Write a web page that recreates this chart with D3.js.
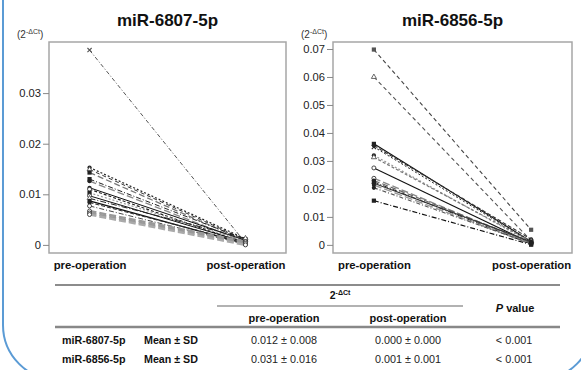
<!DOCTYPE html>
<html>
<head>
<meta charset="utf-8">
<script src="https://cdn.jsdelivr.net/npm/d3@7"></script>
<style>
  html, body { margin: 0; padding: 0; background: #fff; }
  svg { display: block; font-family: "Liberation Sans", Arial, sans-serif; }
</style>
</head>
<body>
<svg id="chart" width="581" height="370"></svg>
<script>
// ---------------- DATA ----------------
const groups = ["pre-operation", "post-operation"];
const titles = ["miR-6807-5p", "miR-6856-5p"];

const pre6807  = [0.0385, 0.0153, 0.0149, 0.0143, 0.0130, 0.0126, 0.0113, 0.0110, 0.0103, 0.0097, 0.0092, 0.0087, 0.0084, 0.0077, 0.0067, 0.0063, 0.0060];
const post6807 = [0.0004, 0.0012, 0.0010, 0.0008, 0.0011, 0.0006, 0.0009, 0.0003, 0.0007, 0.0005, 0.0013, 0.0002, 0.0004, 0.0001, 0.0006, 0.0003, 0.0000];

const pre6856  = [0.0698, 0.0600, 0.0361, 0.0355, 0.0350, 0.0320, 0.0313, 0.0275, 0.0238, 0.0230, 0.0225, 0.0220, 0.0214, 0.0204, 0.0158];
const post6856 = [0.0054, 0.0015, 0.0012, 0.0020, 0.0010, 0.0008, 0.0013, 0.0006, 0.0004, 0.0009, 0.0002, 0.0011, 0.0003, 0.0005, 0.0001];

const ticks6807 = [0, 0.01, 0.02, 0.03];
const ticks6856 = [0, 0.01, 0.02, 0.03, 0.04, 0.05, 0.06, 0.07];

const tableHeaderTop = "2";
const tableHeaderCols = ["pre-operation", "post-operation"];
const tableRowNames = ["miR-6807-5p", "miR-6856-5p"];
const tableStat = ["Mean \u00B1 SD", "Mean \u00B1 SD"];
const tablePre = ["0.012 \u00B1 0.008", "0.031 \u00B1 0.016"];
const tablePost = ["0.000 \u00B1 0.000", "0.001 \u00B1 0.001"];
const tableP = ["< 0.001", "< 0.001"];

// ---------------- STYLES ----------------
const styles6807 = [
  {c:"#555", w:1, d:"4,2,1,2", m:"x"},
  {c:"#222", w:1.2, d:"2,2", m:"circleF"},
  {c:"#333", w:1, d:"4,3", m:"triO"},
  {c:"#777", w:1.3, d:"6,3", m:"squareF"},
  {c:"#222", w:1, d:"5,2,1,2", m:"squareF"},
  {c:"#888", w:1.3, d:"7,3", m:"circleF"},
  {c:"#111", w:1, d:null, m:"circleF"},
  {c:"#222", w:1.2, d:"3,2", m:"circleO"},
  {c:"#999", w:1.2, d:"2,2", m:"squareF"},
  {c:"#111", w:1, d:null, m:"circleO"},
  {c:"#222", w:1, d:"6,2,1,2", m:"triO"},
  {c:"#111", w:1.3, d:null, m:"circleF"},
  {c:"#333", w:1.1, d:"4,2", m:"circleF"},
  {c:"#444", w:1, d:"5,2,1,2", m:"circleO"},
  {c:"#999", w:2.4, d:"7,3", m:"circleO"},
  {c:"#999", w:2.4, d:"7,3", m:"circleO"},
  {c:"#aaa", w:2.4, d:"7,3", m:"circleO"}
];
const styles6856 = [
  {c:"#444", w:1.1, d:"4,3", m:"squareG"},
  {c:"#555", w:1.1, d:"4,3", m:"triO"},
  {c:"#111", w:1.2, d:null, m:"squareF"},
  {c:"#333", w:1.1, d:"4,2", m:"circleF"},
  {c:"#222", w:1, d:"2,2", m:"x"},
  {c:"#999", w:1.3, d:"2,2", m:"circleF"},
  {c:"#777", w:1.2, d:"3,2", m:"triO"},
  {c:"#111", w:1.1, d:null, m:"circleO"},
  {c:"#888", w:1.4, d:"7,3", m:"circleO"},
  {c:"#666", w:1.2, d:"6,3", m:"circleF"},
  {c:"#222", w:1, d:"5,2,1,2", m:"squareF"},
  {c:"#333", w:1.1, d:null, m:"circleF"},
  {c:"#999", w:1.4, d:"8,3", m:"circleF"},
  {c:"#555", w:1.1, d:"4,2,1,2", m:"circleF"},
  {c:"#111", w:1.2, d:"5,2,1,2", m:"squareF"}
];

// ---------------- DRAW ----------------
const svg = d3.select("#chart");

// rounded blue frame
svg.append("rect")
  .attr("x", 3).attr("y", -60).attr("width", 590).attr("height", 440)
  .attr("rx", 55).attr("ry", 55)
  .attr("fill", "none").attr("stroke", "#5b9bd5").attr("stroke-width", 2);

function marker(g, type, x, y, color) {
  const s = 2.1;
  if (type === "x") {
    g.append("path").attr("d", `M${x-s},${y-s}L${x+s},${y+s}M${x-s},${y+s}L${x+s},${y-s}`)
      .attr("stroke", color).attr("stroke-width", 1.1);
  } else if (type === "circleF") {
    g.append("circle").attr("cx", x).attr("cy", y).attr("r", 2.1).attr("fill", "#222");
  } else if (type === "circleO") {
    g.append("circle").attr("cx", x).attr("cy", y).attr("r", 2).attr("fill", "#fff")
      .attr("stroke", "#333").attr("stroke-width", 0.9);
  } else if (type === "squareF") {
    g.append("rect").attr("x", x-2.1).attr("y", y-2.1).attr("width", 4.2).attr("height", 4.2).attr("fill", "#222");
  } else if (type === "squareG") {
    g.append("rect").attr("x", x-2.1).attr("y", y-2.1).attr("width", 4.2).attr("height", 4.2).attr("fill", "#555");
  } else if (type === "triO") {
    g.append("path").attr("d", d3.symbol(d3.symbolTriangle, 11)())
      .attr("transform", `translate(${x},${y})`).attr("fill", "#fff").attr("stroke", "#444").attr("stroke-width", 0.8);
  }
}

function panel(opts) {
  const {x0, x1, y0, y1, domain, ticks, pre, post, styles, title} = opts;
  const g = svg.append("g");
  const x = d3.scalePoint().domain(groups).range([x0, x1]).padding(0.26);
  const y = d3.scaleLinear().domain(domain).range([y1, y0]);

  // lines
  pre.forEach((v, i) => {
    const st = styles[i % styles.length];
    g.append("line")
      .attr("x1", x(groups[0])).attr("y1", y(v))
      .attr("x2", x(groups[1])).attr("y2", y(post[i]))
      .attr("stroke", st.c).attr("stroke-width", st.w)
      .attr("stroke-dasharray", st.d);
  });
  // markers
  pre.forEach((v, i) => {
    const st = styles[i % styles.length];
    marker(g, st.m, x(groups[0]), y(v), st.c);
    marker(g, st.m, x(groups[1]), y(post[i]), st.c);
  });

  // frame
  g.append("rect").attr("x", x0).attr("y", y0).attr("width", x1 - x0).attr("height", y1 - y0)
    .attr("fill", "none").attr("stroke", "#a6a6a6").attr("stroke-width", 1.5);

  // y axis
  const ya = g.append("g").attr("transform", `translate(${x0},0)`)
    .call(d3.axisLeft(y).tickValues(ticks).tickSize(6).tickPadding(2)
      .tickFormat(d => d === 0 ? "0" : d3.format(".2f")(d)));
  ya.select(".domain").remove();
  ya.selectAll(".tick line").attr("stroke", "#888");
  ya.selectAll("text").attr("font-size", 11.2).attr("fill", "#222")
    .attr("font-family", "Liberation Sans, Arial, sans-serif");

  // x axis
  const xa = g.append("g").attr("transform", `translate(0,${y1})`)
    .call(d3.axisBottom(x).tickSize(0).tickPadding(8));
  xa.select(".domain").remove();
  xa.selectAll("text").attr("font-size", 11.3).attr("font-weight", "bold").attr("fill", "#111")
    .attr("font-family", "Liberation Sans, Arial, sans-serif");

  // title
  g.append("text").attr("x", (x0 + x1) / 2).attr("y", 26).attr("text-anchor", "middle")
    .attr("font-size", 17).attr("font-weight", "bold").attr("fill", "#111").text(title);

  // unit label
  const u = g.append("text").attr("x", x0 - 32).attr("y", 38).attr("font-size", 10).attr("fill", "#333");
  u.append("tspan").text("(2");
  u.append("tspan").attr("dy", -4).attr("font-size", 7).text("-\u0394Ct");
  u.append("tspan").attr("dy", 4).text(")");
}

panel({x0: 49, x1: 286, y0: 42, y1: 253, domain: [-0.0016, 0.0401], ticks: ticks6807,
       pre: pre6807, post: post6807, styles: styles6807, title: titles[0]});
panel({x0: 333, x1: 572, y0: 42, y1: 253, domain: [-0.0029, 0.0725], ticks: ticks6856,
       pre: pre6856, post: post6856, styles: styles6856, title: titles[1]});

// ---------------- TABLE ----------------
const t = svg.append("g").attr("fill", "#111");
t.append("line").attr("x1", 55).attr("x2", 560).attr("y1", 285).attr("y2", 285)
  .attr("stroke", "#666").attr("stroke-width", 1.5);
t.append("line").attr("x1", 217).attr("x2", 463).attr("y1", 306).attr("y2", 306)
  .attr("stroke", "#666").attr("stroke-width", 1.2);
t.append("line").attr("x1", 55).attr("x2", 560).attr("y1", 327).attr("y2", 327)
  .attr("stroke", "#888").attr("stroke-width", 2.5);

const hdr = t.append("text").attr("x", 340).attr("y", 299).attr("text-anchor", "middle")
  .attr("font-size", 10.5).attr("font-weight", "bold");
hdr.append("tspan").text(tableHeaderTop);
hdr.append("tspan").attr("dy", -4).attr("font-size", 7).text("-\u0394Ct");

const pv = t.append("text").attr("x", 515).attr("y", 312).attr("text-anchor", "middle")
  .attr("font-size", 11).attr("font-weight", "bold");
pv.append("tspan").attr("font-style", "italic").text("P");
pv.append("tspan").text(" value");

const colX = [284, 408];
tableHeaderCols.forEach((c, i) => {
  t.append("text").attr("x", colX[i]).attr("y", 322).attr("text-anchor", "middle")
    .attr("font-size", 11).attr("font-weight", "bold").text(c);
});

const rowY = [344, 363];
tableRowNames.forEach((r, i) => {
  t.append("text").attr("x", 62).attr("y", rowY[i]).attr("font-size", 10.7).attr("font-weight", "bold").text(r);
  t.append("text").attr("x", 144).attr("y", rowY[i]).attr("font-size", 10.7).attr("font-weight", "bold").text(tableStat[i]);
  t.append("text").attr("x", colX[0]).attr("y", rowY[i]).attr("text-anchor", "middle").attr("font-size", 10.8).attr("fill", "#222").text(tablePre[i]);
  t.append("text").attr("x", colX[1]).attr("y", rowY[i]).attr("text-anchor", "middle").attr("font-size", 10.8).attr("fill", "#222").text(tablePost[i]);
  t.append("text").attr("x", 514).attr("y", rowY[i]).attr("text-anchor", "middle").attr("font-size", 10.8).attr("fill", "#222").text(tableP[i]);
});
</script>
</body>
</html>
